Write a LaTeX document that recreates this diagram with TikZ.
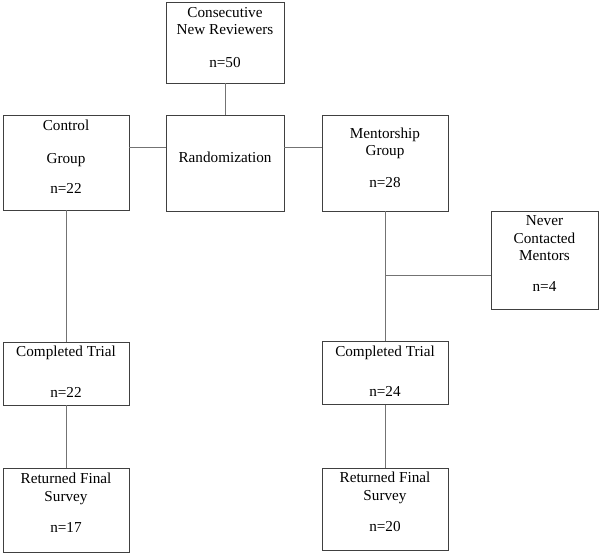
\documentclass[tikz,border=0pt]{standalone}
\usepackage{fontspec}
\setmainfont{Liberation Serif}
\usetikzlibrary{positioning}
\newcommand{\boxtext}[2][3.5pt]{\raisebox{#1}[\height][\depth]{\begin{tabular}{@{}c@{}}#2\end{tabular}}}

\begin{document}
\begin{tikzpicture}[x=1pt, y=-1pt,
    box/.style={draw=black!75, line width=0.8pt, inner sep=0pt, font=\fontsize{15.2}{17.5}\selectfont},
    link/.style={draw=black!55, line width=0.9pt}]
    \useasboundingbox (0,0) rectangle (600,553);
    % top row
    \node[box, minimum width=118pt, minimum height=81pt] (new) at (225,42.5) {\boxtext{Consecutive\\New Reviewers\\[15pt]n=50}};
    \node[box, minimum width=118pt, minimum height=96pt] (rand) at (225,163) {\boxtext{Randomization}};
    \node[box, minimum width=126pt, minimum height=95pt] (ctrl) at (66,162.5) {\boxtext{Control\\[15pt]Group\\[13pt]n=22}};
    \node[box, minimum width=126pt, minimum height=96pt] (ment) at (385,163) {\boxtext{Mentorship\\Group\\[14pt]n=28}};
    \node[box, minimum width=107pt, minimum height=98pt] (never) at (544.5,260) {\boxtext[5pt]{Never\\Contacted\\Mentors\\[13pt]n=4}};
    % lower rows
    \node[box, minimum width=126pt, minimum height=63pt] (ctrltrial) at (66,373.5) {\boxtext[0pt]{Completed Trial\\[23pt]n=22}};
    \node[box, minimum width=126pt, minimum height=63pt] (menttrial) at (385,373) {\boxtext[0pt]{Completed Trial\\[23pt]n=24}};
    \node[box, minimum width=126pt, minimum height=84pt] (ctrlsurvey) at (66,510) {\boxtext[5.5pt]{Returned Final\\Survey\\[14pt]n=17}};
    \node[box, minimum width=126pt, minimum height=82pt] (mentsurvey) at (385,509) {\boxtext[5.5pt]{Returned Final\\Survey\\[14pt]n=20}};

    \coordinate (lhook) at ([yshift=16pt]rand.west);
    \coordinate (rhook) at ([yshift=16pt]rand.east);
    \coordinate (nhook) at ([yshift=-15pt]never.west);

    \draw[link] (new) -- (rand);
    \draw[link] (lhook) -- (lhook -| ctrl.east);
    \draw[link] (rhook) -- (rhook -| ment.west);
    \draw[link] (ctrl) -- (ctrltrial);
    \draw[link] (ment) -- (menttrial);
    \draw[link] (nhook) -- (nhook -| ment.south);
    \draw[link] (ctrltrial) -- (ctrlsurvey);
    \draw[link] (menttrial) -- (mentsurvey);
\end{tikzpicture}
\end{document}
